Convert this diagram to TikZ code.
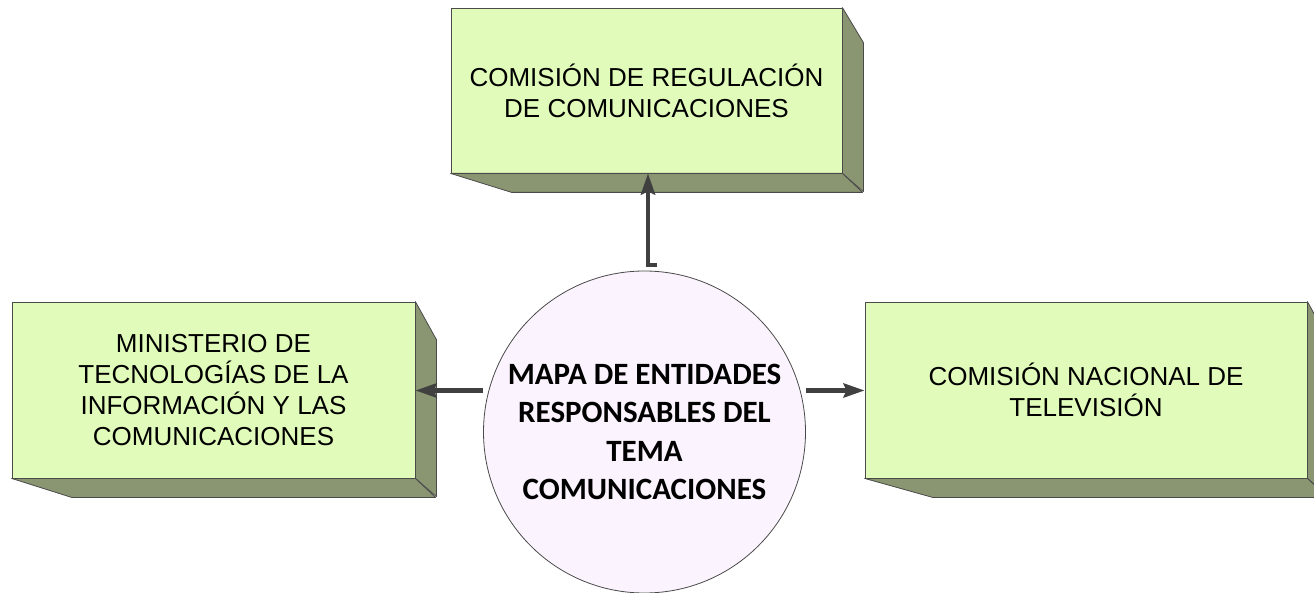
\documentclass[tikz,border=0pt]{standalone}
\usepackage{fontspec}
\setmainfont{Liberation Sans}
\newfontfamily\calib{Carlito}
\usetikzlibrary{arrows.meta}
\definecolor{frontc}{HTML}{E1FBBA}
\definecolor{sidec}{HTML}{8A9672}
\definecolor{circc}{HTML}{FBF3FD}
\definecolor{edgec}{HTML}{4A4A4A}
\definecolor{arrc}{HTML}{404040}
\tikzset{
  facebox/.style={draw=edgec, line width=0.8pt, fill=frontc, inner sep=0pt,
    align=center, font=\fontsize{26}{31}\selectfont},
  sideface/.style={draw=edgec, line width=0.8pt, fill=sidec, line join=round},
  hub/.style={circle, draw=edgec, line width=0.8pt, fill=circc, inner sep=0pt,
    minimum size=322pt, align=center, font=\calib\bfseries\fontsize{31}{38.5}\selectfont},
  conn/.style={draw=arrc, line width=4.5pt, line join=miter,
    -{Stealth[length=21pt,width=14pt,inset=3pt]}}
}
\begin{document}
\begin{tikzpicture}[x=1pt,y=-1pt]
\useasboundingbox (0,0) rectangle (1314,593);
\clip (0,0) rectangle (1314,593);
% top box
\node[facebox, minimum width=391pt, minimum height=165pt] (crc) at (646.5,90.5)
  {COMISIÓN DE REGULACIÓN\\DE COMUNICACIONES};
\draw[sideface] (crc.north east) -- ++(21,35) -- ++(0,149) -- (crc.south east) -- cycle;
\draw[sideface] (crc.south west) -- ++(61,19) -- ++(351,0) -- (crc.south east) -- cycle;
% left box
\node[facebox, minimum width=403pt, minimum height=176pt] (min) at (213.5,390)
  {MINISTERIO DE\\TECNOLOGÍAS DE LA\\INFORMACIÓN Y LAS\\COMUNICACIONES};
\draw[sideface] (min.north east) -- ++(21,38) -- ++(0,157) -- (min.south east) -- cycle;
\draw[sideface] (min.south west) -- ++(60,19) -- ++(364,0) -- (min.south east) -- cycle;
% right box
\node[facebox, minimum width=442pt, minimum height=176pt] (cnt) at (1086,390)
  {COMISIÓN NACIONAL DE\\TELEVISIÓN};
\draw[sideface] (cnt.north east) -- ++(21,38) -- ++(0,157) -- (cnt.south east) -- cycle;
\draw[sideface] (cnt.south west) -- ++(68,19) -- ++(395,0) -- (cnt.south east) -- cycle;
% hub
\node[hub] (hub) at (644.5,432)
  {MAPA DE ENTIDADES\\RESPONSABLES DEL\\TEMA\\COMUNICACIONES};
% connectors
\coordinate (foot) at (657,265);
\draw[conn] (foot) -- (648,265) -- (crc.south -| 648,0);
\draw[conn] (hub.west |- 0,390.5) -- (min.east |- 0,390.5);
\draw[conn] (hub.east |- 0,390.5) -- (cnt.west |- 0,390.5);
\end{tikzpicture}
\end{document}
